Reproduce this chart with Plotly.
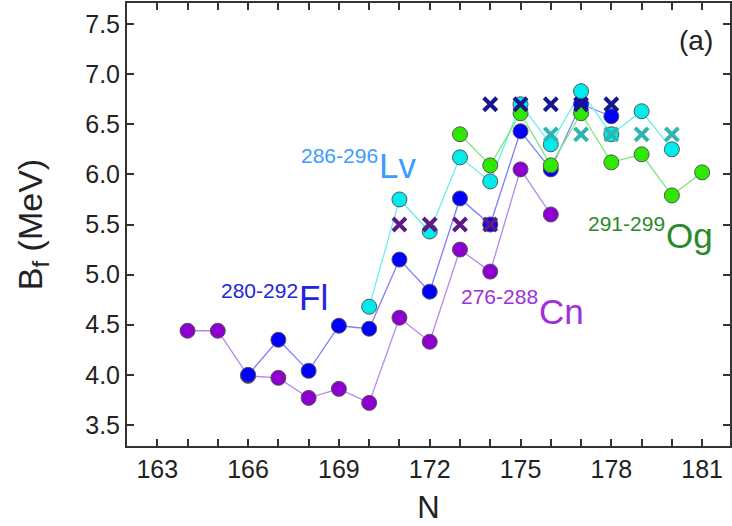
import plotly.graph_objects as go

# Fission barrier heights B_f (MeV) versus neutron number N
cn_n = [164, 165, 166, 167, 168, 169, 170, 171, 172, 173, 174, 175, 176]
cn_bf = [4.44, 4.44, 3.99, 3.97, 3.77, 3.86, 3.72, 4.57, 4.33, 5.25, 5.03, 6.05, 5.60]

fl_n = [166, 167, 168, 169, 170, 171, 172, 173, 174, 175, 176, 177, 178]
fl_bf = [4.00, 4.35, 4.04, 4.49, 4.46, 5.15, 4.83, 5.76, 5.50, 6.43, 6.05, 6.70, 6.58]

lv_n = [170, 171, 172, 173, 174, 175, 176, 177, 178, 179, 180]
lv_bf = [4.68, 5.75, 5.43, 6.17, 5.93, 6.70, 6.30, 6.83, 6.40, 6.63, 6.25]

og_n = [173, 174, 175, 176, 177, 178, 179, 180, 181]
og_bf = [6.40, 6.09, 6.61, 6.09, 6.61, 6.12, 6.20, 5.79, 6.02]

# Reference values drawn as crosses
x_cn_n = [171, 172, 173, 174]
x_cn_bf = [5.5, 5.5, 5.5, 5.5]
x_fl_n = [174, 175, 176, 177, 178]
x_fl_bf = [6.7, 6.7, 6.7, 6.7, 6.7]
x_lv_n = [176, 177, 178, 179, 180]
x_lv_bf = [6.4, 6.4, 6.4, 6.4, 6.4]

x_tickvals = [163, 166, 169, 172, 175, 178, 181]
y_tickvals = [3.5, 4.0, 4.5, 5.0, 5.5, 6.0, 6.5, 7.0, 7.5]

series = [
    (cn_n, cn_bf, "#8e00d0", "#b58ae6"),
    (fl_n, fl_bf, "#0000ff", "#7d7dff"),
    (lv_n, lv_bf, "#00ecec", "#66f0f0"),
    (og_n, og_bf, "#2ee800", "#7fe67f"),
]
crosses = [
    (x_cn_n, x_cn_bf, "#5e1a84"),
    (x_fl_n, x_fl_bf, "#16168f"),
    (x_lv_n, x_lv_bf, "#2fb4b4"),
]

FONT = "Arial, Liberation Sans, sans-serif"

fig = go.Figure()
for n, bf, mc, lc in series:
    fig.add_trace(go.Scatter(x=n, y=bf, mode="lines",
                             line=dict(color=lc, width=1.3), hoverinfo="skip"))
for n, bf, mc, lc in series:
    fig.add_trace(go.Scatter(x=n, y=bf, mode="markers",
                             marker=dict(color=mc, size=15,
                                         line=dict(color="#555555", width=1))))
for n, bf, c in crosses:
    fig.add_trace(go.Scatter(x=n, y=bf, mode="markers",
                             marker=dict(symbol="x-thin", size=13,
                                         line=dict(color=c, width=4))))

# Isotope-chain labels: mass range as a superscript, then the element symbol
labels = [
    ("286-296", "Lv", "#3c9cff", 170.36, 6.19, 6.09),
    ("280-292", "Fl", "#2424e0", 167.71, 4.84, 4.77),
    ("276-288", "Cn", "#a030dd", 175.63, 4.78, 4.63),
    ("291-299", "Og", "#2a8a2a", 179.85, 5.51, 5.39),
]
for sup, sym, col, xr, ysup, ysym in labels:
    fig.add_annotation(x=xr, y=ysup, text=sup, showarrow=False,
                       xanchor="right", yanchor="middle",
                       font=dict(family=FONT, size=21, color=col))
    fig.add_annotation(x=xr - 0.1, y=ysym, text=sym, showarrow=False,
                       xanchor="left", yanchor="middle",
                       font=dict(family=FONT, size=35, color=col))

fig.add_annotation(x=180.8, y=7.34, text="(a)", showarrow=False,
                   xanchor="center", yanchor="middle",
                   font=dict(family=FONT, size=28, color="#222222"))

axis_common = dict(showline=True, linecolor="#333333", linewidth=2,
                   mirror="ticks", ticks="inside", tickcolor="#333333",
                   tickwidth=1.5, ticklen=7, showgrid=False, zeroline=False,
                   tickfont=dict(family=FONT, size=25, color="#222222"))

fig.update_xaxes(range=[162.0, 181.92], tickvals=x_tickvals,
                 minor=dict(dtick=1, tick0=162, ticks="inside", ticklen=7,
                            tickcolor="#333333", tickwidth=1.5),
                 title=dict(text="N", font=dict(family=FONT, size=31, color="#222222"),
                            standoff=14),
                 **axis_common)
fig.update_yaxes(range=[3.29, 7.71], tickvals=y_tickvals,
                 tickformat=".1f",
                 title=dict(text="B<sub>f</sub> (MeV)",
                            font=dict(family=FONT, size=34, color="#222222"),
                            standoff=32),
                 **axis_common)

fig.update_layout(width=732, height=526, showlegend=False,
                  margin=dict(l=127, r=2, t=3, b=80, autoexpand=False),
                  plot_bgcolor="white", paper_bgcolor="white")

fig.write_html("out.html")
